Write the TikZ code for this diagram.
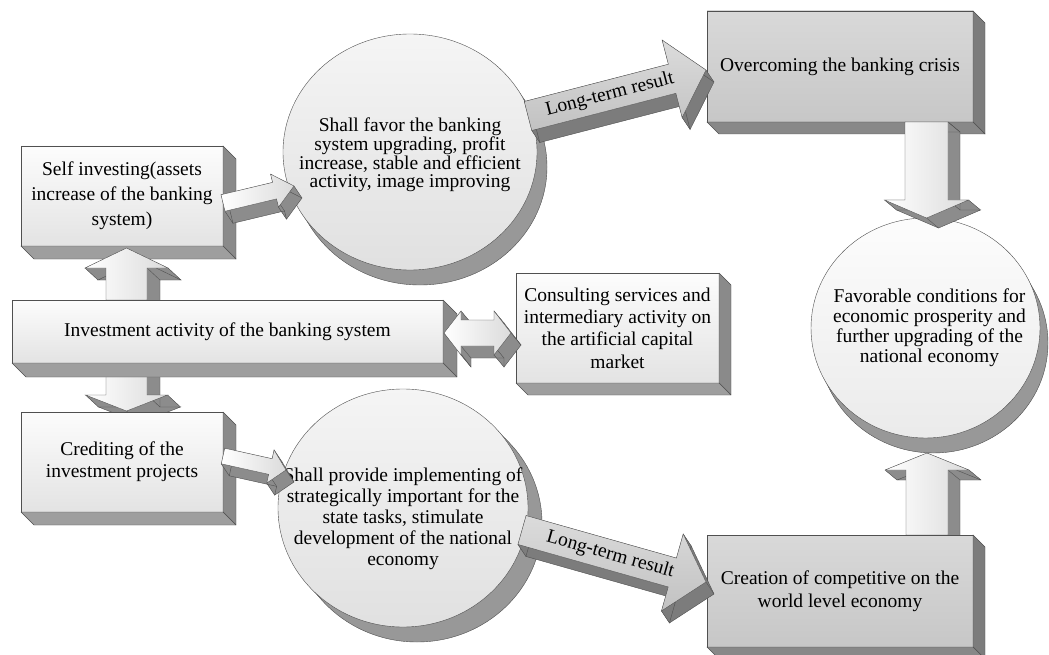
\documentclass[tikz,border=0pt]{standalone}
\usepackage{fontspec}
\setmainfont{Liberation Serif}
\usetikzlibrary{calc,shapes.geometric}
\pgfdeclarelayer{l1}
\pgfdeclarelayer{l2}
\pgfdeclarelayer{l3s}
\pgfdeclarelayer{l4}
\pgfdeclarelayer{l5}
\pgfsetlayers{l1,l2,main,l3s,l4,l5}

\definecolor{edgec}{HTML}{505050}
\definecolor{sideR}{HTML}{8A8A8A}
\definecolor{sideB}{HTML}{9E9E9E}
\definecolor{sideD}{HTML}{7C7C7C}
\definecolor{sideDB}{HTML}{888888}
\definecolor{shad}{HTML}{989898}
\definecolor{arrside}{HTML}{8C8C8C}

\tikzset{
  txt/.style={font=\fontsize{19.5}{22.5}\selectfont, align=center, text=black, inner sep=0pt},
  lightbox/.style={txt, rectangle, draw=edgec, outer sep=0pt, top color=white!99!black, bottom color=white!89!black},
  greybox/.style={lightbox, top color=white!85!black, bottom color=white!78!black},
  bubble/.style={ellipse, draw=edgec, inner sep=0pt, outer sep=0pt, top color=white!96!black, bottom color=white!88!black},
  smallfront/.style={draw=edgec, left color=white, right color=white!86!black},
  longfront/.style={draw=edgec, top color=white!86!black, bottom color=white!76!black},
}

% side faces of a 3D box node: name, depth, right colour, bottom colour
\newcommand\boxside[4]{%
  \filldraw[fill=#3, draw=edgec] (#1.north east) -- ($(#1.north east)+(#2,#2)$) -- ($(#1.south east)+(#2,#2)$) -- (#1.south east) -- cycle;
  \filldraw[fill=#4, draw=edgec] (#1.south west) -- (#1.south east) -- ($(#1.south east)+(#2,#2)$) -- ($(#1.south west)+(#2,#2)$) -- cycle;
}

% frame of an arrow from #1 to #2
\newcommand\frameset[2]{%
  \path (#1); \pgfgetlastxy{\tax}{\tay}%
  \path (#2); \pgfgetlastxy{\tbx}{\tby}%
  \pgfmathsetmacro\tang{atan2((\tby)-(\tay),(\tbx)-(\tax))}%
  \pgfmathsetmacro\tlen{veclen((\tbx)-(\tax),(\tby)-(\tay))}%
}

\newcommand\arrowpts[5]{%
  \frameset{#1}{#2}%
  \pgfmathsetmacro\tbase{\tlen-#5}%
  \begin{scope}[shift={(\tax,\tay)},rotate=\tang]
    \coordinate (q1) at (0,-#3);
    \coordinate (q2) at (\tbase,-#3);
    \coordinate (q3) at (\tbase,-#4);
    \coordinate (q4) at (\tlen,0);
    \coordinate (q5) at (\tbase,#4);
    \coordinate (q6) at (\tbase,#3);
    \coordinate (q7) at (0,#3);
  \end{scope}}

\newcommand\dblpts[5]{%
  \frameset{#1}{#2}%
  \pgfmathsetmacro\tbase{\tlen-#5}%
  \begin{scope}[shift={(\tax,\tay)},rotate=\tang]
    \coordinate (q1) at (0,0);
    \coordinate (q2) at (#5,-#4);
    \coordinate (q3) at (#5,-#3);
    \coordinate (q4) at (\tbase,-#3);
    \coordinate (q5) at (\tbase,-#4);
    \coordinate (q6) at (\tlen,0);
    \coordinate (q7) at (\tbase,#4);
    \coordinate (q8) at (\tbase,#3);
    \coordinate (q9) at (#5,#3);
    \coordinate (q10) at (#5,#4);
  \end{scope}}

% extrusion of polygon (list of coordinate names, closed), offset (#2,#3), colour #4
\newcommand\extrude[4]{%
  \foreach \p [remember=\p as \lp (initially q1)] in {#1} {\fill[#4] (\lp) -- (\p) -- ($(\p)+(#2,#3)$) -- ($(\lp)+(#2,#3)$) -- cycle;}
  \draw[edgec] ($(q1)+(#2,#3)$) \foreach \p in {#1} { -- ($(\p)+(#2,#3)$) };
  \foreach \p in {#1} {\draw[edgec] (\p) -- ($(\p)+(#2,#3)$);}
}

% single 3D arrow: tail, tip, shaft half width, head half width, head length, dx, dy, front style, side colour
\newcommand\sarrow[9]{%
  \arrowpts{#1}{#2}{#3}{#4}{#5}%
  \extrude{q1,q2,q3,q4,q5,q6,q7,q1}{#6}{#7}{#9}%
  \draw[#8] (q1) -- (q2) -- (q3) -- (q4) -- (q5) -- (q6) -- (q7) -- cycle;
}

\newcommand\darrow[9]{%
  \dblpts{#1}{#2}{#3}{#4}{#5}%
  \extrude{q1,q2,q3,q4,q5,q6,q7,q8,q9,q10,q1}{#6}{#7}{#9}%
  \draw[#8] (q1) -- (q2) -- (q3) -- (q4) -- (q5) -- (q6) -- (q7) -- (q8) -- (q9) -- (q10) -- cycle;
}

\begin{document}
\begin{tikzpicture}[x=1pt,y=-1pt,line width=0.6pt,line join=round]
\useasboundingbox (0,0) rectangle (1049,655);

% ---------- boxes ----------
\begin{pgfonlayer}{l1}
\node[lightbox, minimum width=202pt, minimum height=100pt, font=\fontsize{19.5}{25}\selectfont] (self) at (122,196)
  {Self investing(assets\\increase of the banking\\system)};
\boxside{self}{13}{sideR}{sideB}
\end{pgfonlayer}

\node[lightbox, minimum width=431pt, minimum height=63pt] (inv) at (227.5,331.5)
  {Investment activity of the banking system};
\boxside{inv}{14}{sideR}{sideB}

\node[lightbox, minimum width=202pt, minimum height=100pt, font=\fontsize{19.5}{22}\selectfont] (cred) at (122,462)
  {Crediting of the\\investment projects};
\boxside{cred}{13}{sideR}{sideB}

\node[lightbox, minimum width=203pt, minimum height=110pt, font=\fontsize{19.5}{22.3}\selectfont] (cons) at (617.5,328)
  {Consulting services and\\intermediary activity on\\the artificial capital\\market};
\boxside{cons}{12}{sideR}{sideB}

% ---------- circles and grey boxes ----------
\begin{pgfonlayer}{l4}
\node[bubble, minimum width=254pt, minimum height=236pt] (c1) at (410,152) {};
\node[bubble, minimum width=250pt, minimum height=238pt] (c2) at (403,508) {};
\node[bubble, minimum width=229pt, minimum height=220pt, top color=white!99!black, bottom color=white!92!black] (c3) at (925.5,328) {};
\node[txt, font=\fontsize{19.5}{18.7}\selectfont] (c1t) at ($(c1.center)+(0,3)$)
  {Shall favor the banking\\system upgrading, profit\\increase, stable and efficient\\activity, image improving};
\node[txt, font=\fontsize{19.5}{21}\selectfont] (c2t) at ($(c2.center)+(0,11)$)
  {Shall provide implementing of\\strategically important for the\\state tasks, stimulate\\development of the national\\economy};
\node[txt, font=\fontsize{19.5}{20}\selectfont] (c3t) at ($(c3.center)+(4,0)$)
  {Favorable conditions for\\economic prosperity and\\further upgrading of the\\national economy};

\node[greybox, minimum width=266pt, minimum height=111pt] (over) at (840,66.5)
  {Overcoming the banking crisis};
\boxside{over}{12}{sideD}{sideDB}
\node[greybox, minimum width=266pt, minimum height=112pt, font=\fontsize{19.5}{23.5}\selectfont] (creat) at (840,591)
  {Creation of competitive on the\\world level economy};
\boxside{creat}{12}{sideD}{sideDB}
\end{pgfonlayer}

\begin{pgfonlayer}{l3s}
\foreach \t in {0.25,0.5,0.75} {
  \fill[shad] ($(c1.center)+(10*\t,15*\t)$) ellipse [x radius=127pt, y radius=118pt];
  \fill[shad] ($(c2.center)+(14*\t,15*\t)$) ellipse [x radius=125pt, y radius=119pt];
  \fill[shad] ($(c3.center)+(8*\t,15*\t)$) ellipse [x radius=114.5pt, y radius=110pt];
}
\filldraw[fill=shad, draw=edgec] ($(c1.center)+(10,15)$) ellipse [x radius=127pt, y radius=118pt];
\filldraw[fill=shad, draw=edgec] ($(c2.center)+(14,15)$) ellipse [x radius=125pt, y radius=119pt];
\filldraw[fill=shad, draw=edgec] ($(c3.center)+(8,15)$) ellipse [x radius=114.5pt, y radius=110pt];
\end{pgfonlayer}

% ---------- connector end points ----------
\coordinate (gT) at ($(inv.north west)+(114.5,0)$);
\coordinate (gH) at ($(self.south)+(4.5,2)$);
\coordinate (hT) at ($(inv.south west)+(114.5,0)$);
\coordinate (hH) at ($(cred.north)+(4.5,-1)$);
\coordinate (aT) at ($(self.east)+(0,7)$);
\coordinate (aH) at ($(c1.center)+(-116,34)$);
\coordinate (bT) at ($(cred.east)+(0,-6)$);
\coordinate (bH) at ($(c2.center)+(-117,-38)$);
\coordinate (cT) at ($(c1.center)+(118,-36)$);
\coordinate (cH) at ($(over.west)+(-1,3.5)$);
\coordinate (dT) at ($(c2.center)+(119,22)$);
\coordinate (dH) at ($(creat.west)+(-1,-9)$);
\coordinate (eT) at ($(over.south)+(86.5,0)$);
\coordinate (eH) at ($(c3.north)+(1,0)$);
\coordinate (fT) at ($(creat.north)+(87,0)$);
\coordinate (fH) at ($(c3.south)+(1.5,15)$);
\coordinate (xL) at ($(inv.east)+(1,1.5)$);
\coordinate (xR) at ($(cons.west)+(-5,5)$);

% ---------- arrows ----------
\begin{pgfonlayer}{l2}
\sarrow{gT}{gH}{20.5}{41.5}{20}{13}{12}{smallfront}{arrside}
\sarrow{hT}{hH}{20.5}{41}{16}{13}{12}{smallfront}{arrside}
\end{pgfonlayer}

\sarrow{fT}{fH}{21}{42}{17}{12}{10}{smallfront}{arrside}

\begin{pgfonlayer}{l4}
\darrow{xL}{xR}{13}{22}{17}{10}{12}{smallfront}{arrside}
\end{pgfonlayer}

\begin{pgfonlayer}{l5}
\sarrow{aT}{aH}{8.5}{17}{20}{8}{12}{smallfront}{arrside}
\sarrow{bT}{bH}{8}{17}{16}{8}{12}{smallfront}{arrside}
\sarrow{cT}{cH}{15}{40}{35}{8}{12}{longfront}{sideD}
\path (cT) -- node[txt, sloped, pos=0.46] (lblC) {Long-term result} (cH);
\sarrow{dT}{dH}{15}{40}{35}{8}{12}{longfront}{sideD}
\path (dT) -- node[txt, sloped, pos=0.48] (lblD) {Long-term result} (dH);
\sarrow{eT}{eH}{21.5}{42}{18}{12}{10}{smallfront}{arrside}
\end{pgfonlayer}

\end{tikzpicture}
\end{document}
